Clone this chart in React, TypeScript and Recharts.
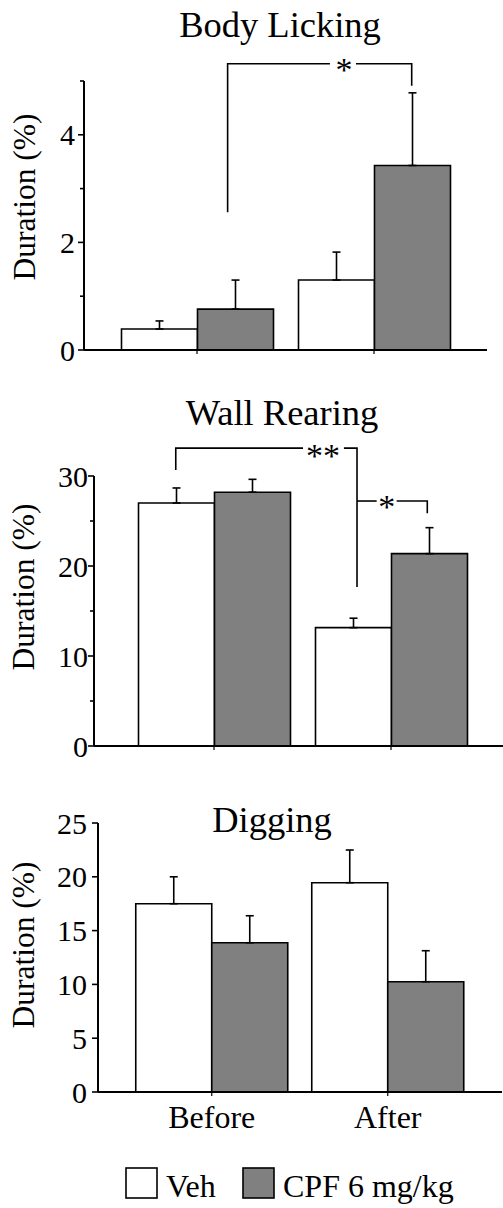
import React from 'react'
import { BarChart, Bar, XAxis, YAxis, ErrorBar } from 'recharts'

const groups = ['Before', 'After']
const seriesNames = ['Veh', 'CPF 6 mg/kg']
const seriesFills = ['#ffffff', '#808080']

const lickingVeh = [0.39, 1.3]
const lickingVehErr = [0.15, 0.52]
const lickingCpf = [0.76, 3.43]
const lickingCpfErr = [0.54, 1.35]

const rearingVeh = [27.0, 13.15]
const rearingVehErr = [1.67, 1.05]
const rearingCpf = [28.2, 21.37]
const rearingCpfErr = [1.43, 2.89]

const diggingVeh = [17.5, 19.45]
const diggingVehErr = [2.5, 3.04]
const diggingCpf = [13.87, 10.25]
const diggingCpfErr = [2.51, 2.88]

const lickingTicks = [0, 1, 2, 3, 4, 5]
const lickingLabels = [0, 2, 4]
const rearingTicks = [0, 5, 10, 15, 20, 25, 30]
const rearingLabels = [0, 10, 20, 30]
const diggingTicks = [0, 5, 10, 15, 20, 25]
const diggingLabels = [0, 5, 10, 15, 20, 25]

const FONT = '"Liberation Serif", "Times New Roman", serif'
const W = 503

const makeRows = (veh: number[], vehErr: number[], cpf: number[], cpfErr: number[]) =>
  groups.map((g, i) => ({
    name: g,
    veh: veh[i],
    vehErr: [0, vehErr[i]],
    cpf: cpf[i],
    cpfErr: [0, cpfErr[i]],
  }))

type Pt = [number, number]
type Bracket = { lines: Pt[][]; label: string; at: Pt; dy: number }

type PanelDef = {
  title: string
  top: number
  height: number
  rows: any[]
  max: number
  ticks: number[]
  labels: number[]
  yAxisWidth: number
  marginTop: number
  marginRight: number
  marginBottom: number
  xAxisHeight: number
  padL: number
  padR: number
  tickMargin: number
  showX: boolean
  titleX: number
  titleY: number
  ylabelX: number
  ylabelY: number
  brackets: Bracket[]
}

const makeTick = (labels: number[], margin: number) => (props: any) => {
  const { x, y, payload } = props
  const axisX = x + margin
  const major = labels.includes(payload.value)
  return (
    <g>
      <line x1={axisX - (major ? 6 : 4)} x2={axisX} y1={y} y2={y} stroke="#000" strokeWidth={1.6} />
      {major && (
        <text x={x} y={y} dy="0.35em" textAnchor="end" fontSize={30} fill="#000" fontFamily={FONT}>
          {payload.value}
        </text>
      )}
    </g>
  )
}

function Overlay({ p }: { p: PanelDef }) {
  const plotTop = p.marginTop
  const plotBottom = p.height - p.marginBottom - p.xAxisHeight
  const plotLeft = p.yAxisWidth
  const plotRight = W - p.marginRight
  const bw = (plotRight - plotLeft - p.padL - p.padR) / groups.length
  const px = (u: number) => plotLeft + p.padL + u * bw
  const py = (v: number) => plotBottom - ((plotBottom - plotTop) * v) / p.max
  return (
    <svg
      width={W}
      height={p.height}
      style={{ position: 'absolute', left: 0, top: p.top, pointerEvents: 'none' }}
    >
      <text x={p.titleX} y={p.titleY} textAnchor="middle" fontSize={36.5} fontFamily={FONT} fill="#000">
        {p.title}
      </text>
      <text
        x={p.ylabelX}
        y={p.ylabelY}
        textAnchor="middle"
        dominantBaseline="central"
        fontSize={31.5}
        fontFamily={FONT}
        fill="#000"
        transform={`rotate(-90 ${p.ylabelX} ${p.ylabelY})`}
      >
        Duration (%)
      </text>
      {p.brackets.map((b, i) => (
        <g key={i}>
          {b.lines.map((l, j) => (
            <polyline
              key={j}
              points={l.map(([u, v]) => `${px(u)},${py(v)}`).join(' ')}
              fill="none"
              stroke="#000"
              strokeWidth={1.6}
            />
          ))}
          <text
            x={px(b.at[0])}
            y={py(b.at[1]) + b.dy}
            textAnchor="middle"
            fontSize={34}
            fontFamily={FONT}
            fill="#000"
          >
            {b.label}
          </text>
        </g>
      ))}
    </svg>
  )
}

function Panel({ p }: { p: PanelDef }) {
  return (
    <>
      <div style={{ position: 'absolute', left: 0, top: p.top }}>
        <BarChart
          width={W}
          height={p.height}
          data={p.rows}
          barGap={0}
          barSize={76}
          margin={{ top: p.marginTop, right: p.marginRight, bottom: p.marginBottom, left: 0 }}
          style={{ fontFamily: FONT }}
        >
          <XAxis
            dataKey="name"
            height={p.xAxisHeight}
            padding={{ left: p.padL, right: p.padR }}
            axisLine={{ stroke: '#000', strokeWidth: 2 }}
            tickLine={{ stroke: '#000', strokeWidth: 1.2 }}
            tickSize={4}
            tickMargin={9}
            tick={p.showX ? { fontSize: 32, fill: '#000', fontFamily: FONT } : true}
            tickFormatter={p.showX ? undefined : () => ''}
          />
          <YAxis
            width={p.yAxisWidth}
            domain={[0, p.max]}
            ticks={p.ticks}
            interval={0}
            axisLine={{ stroke: '#000', strokeWidth: 2 }}
            tickLine={false}
            tickSize={0}
            tickMargin={p.tickMargin}
            tick={makeTick(p.labels, p.tickMargin)}
          />
          <Bar dataKey="veh" name={seriesNames[0]} fill={seriesFills[0]} stroke="#000" strokeWidth={1.6} isAnimationActive={false}>
            <ErrorBar dataKey="vehErr" direction="y" width={4} stroke="#000" strokeWidth={1.6} />
          </Bar>
          <Bar dataKey="cpf" name={seriesNames[1]} fill={seriesFills[1]} stroke="#000" strokeWidth={1.6} isAnimationActive={false}>
            <ErrorBar dataKey="cpfErr" direction="y" width={4} stroke="#000" strokeWidth={1.6} />
          </Bar>
        </BarChart>
      </div>
      <Overlay p={p} />
    </>
  )
}

const panels: PanelDef[] = [
  {
    title: 'Body Licking',
    top: 0,
    height: 380,
    rows: makeRows(lickingVeh, lickingVehErr, lickingCpf, lickingCpfErr),
    max: 5,
    ticks: lickingTicks,
    labels: lickingLabels,
    yAxisWidth: 84,
    marginTop: 81,
    marginRight: 16,
    marginBottom: 0,
    xAxisHeight: 30,
    padL: 24.5,
    padR: 24.5,
    tickMargin: 9,
    showX: false,
    titleX: 280,
    titleY: 37,
    ylabelX: 24,
    ylabelY: 197,
    brackets: [
      {
        lines: [
          [[0.673, 2.56], [0.673, 5.32], [1.251, 5.32]],
          [[1.398, 5.32], [1.713, 5.32], [1.713, 4.91]],
        ],
        label: '*',
        at: [1.33, 5.32],
        dy: 17,
      },
    ],
  },
  {
    title: 'Wall Rearing',
    top: 380,
    height: 400,
    rows: makeRows(rearingVeh, rearingVehErr, rearingCpf, rearingCpfErr),
    max: 30,
    ticks: rearingTicks,
    labels: rearingLabels,
    yAxisWidth: 94,
    marginTop: 96,
    marginRight: 0,
    marginBottom: 0,
    xAxisHeight: 34,
    padL: 31.5,
    padR: 23.5,
    tickMargin: 6,
    showX: false,
    titleX: 282,
    titleY: 45,
    ylabelX: 23,
    ylabelY: 207,
    brackets: [
      {
        lines: [
          [[0.284, 30.67], [0.284, 33.1], [1.003, 33.1]],
          [[1.234, 33.1], [1.308, 33.1], [1.308, 17.67]],
        ],
        label: '**',
        at: [1.116, 33.1],
        dy: 19,
      },
      {
        lines: [
          [[1.308, 27.22], [1.419, 27.22]],
          [[1.532, 27.22], [1.705, 27.22], [1.705, 25.86]],
        ],
        label: '*',
        at: [1.476, 27.22],
        dy: 17,
      },
    ],
  },
  {
    title: 'Digging',
    top: 780,
    height: 428,
    rows: makeRows(diggingVeh, diggingVehErr, diggingCpf, diggingCpfErr),
    max: 25,
    ticks: diggingTicks,
    labels: diggingLabels,
    yAxisWidth: 98,
    marginTop: 43,
    marginRight: 1,
    marginBottom: 66,
    xAxisHeight: 50,
    padL: 25.75,
    padR: 26.25,
    tickMargin: 11,
    showX: true,
    titleX: 272,
    titleY: 52,
    ylabelX: 23,
    ylabelY: 165,
    brackets: [],
  },
]

function LegendRow() {
  const boxes = [126, 243]
  const texts = [166, 283]
  return (
    <svg width={W} height={60} style={{ position: 'absolute', left: 0, top: 1150 }}>
      {seriesNames.map((name, i) => (
        <g key={name}>
          <rect x={boxes[i]} y={18} width={31} height={30} fill={seriesFills[i]} stroke="#000" strokeWidth={1.6} />
          <text x={texts[i]} y={47} fontSize={32} fontFamily={FONT} fill="#000">
            {name}
          </text>
        </g>
      ))}
    </svg>
  )
}

export default function App() {
  return (
    <div style={{ position: 'absolute', left: 0, top: 0, width: W, height: 1208, background: '#fff' }}>
      {panels.map((p) => (
        <Panel key={p.title} p={p} />
      ))}
      <LegendRow />
    </div>
  )
}
